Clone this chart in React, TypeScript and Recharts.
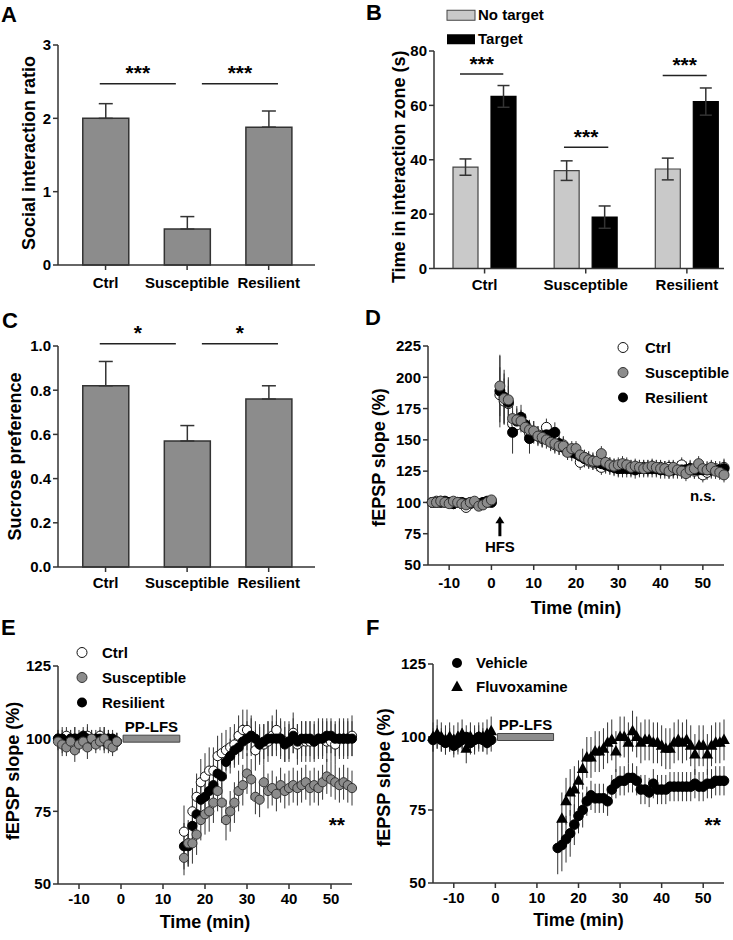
import React from 'react';
import {
  BarChart, Bar, XAxis, YAxis, ErrorBar, ReferenceLine, ReferenceDot, ReferenceArea,
  ScatterChart, Scatter, Legend,
} from 'recharts';

const FONT = '"Liberation Sans", Arial, Helvetica, sans-serif';
const AXIS = '#333333';
const GRAY = '#8c8c8c';
const LIGHT = '#c9c9c9';

// ---------------- categories & bar panels (A, B, C)
const groups = ['Ctrl', 'Susceptible', 'Resilient'];
const groupPos = [0.5, 1.5, 2.5];

// A: social interaction ratio
const socialRatio = [2.0, 0.49, 1.88];
const socialRatioSem = [0.2, 0.17, 0.22];
const ratioTicks = [0, 1, 2, 3];

// B: time in interaction zone
const timeNoTarget = [37.3, 36.0, 36.6];
const timeNoTargetSem = [3.0, 3.6, 4.0];
const timeTarget = [63.3, 18.9, 61.4];
const timeTargetSem = [4.0, 4.1, 5.0];
const timeTicks = [0, 20, 40, 60, 80];

// C: sucrose preference
const sucrosePref = [0.82, 0.57, 0.76];
const sucrosePrefSem = [0.11, 0.07, 0.06];
const sucroseTicks = [0, 0.2, 0.4, 0.6, 0.8, 1.0];

// significance annotations
const sigA = [
  { x1: 0.429, x2: 1.362, y: 2.47, text: '***' },
  { x1: 1.681, x2: 2.614, y: 2.47, text: '***' },
];
const sigB = [
  { x1: 0.257, x2: 0.685, y: 71.5, text: '***' },
  { x1: 1.285, x2: 1.723, y: 44.6, text: '***' },
  { x1: 2.261, x2: 2.696, y: 71.0, text: '***' },
];
const sigC = [
  { x1: 0.429, x2: 1.362, y: 1.01, text: '*' },
  { x1: 1.681, x2: 2.614, y: 1.01, text: '*' },
];

// ---------------- D: LTP
const minuteTicks = [-10, 0, 10, 20, 30, 40, 50];
const ltpTicks = [50, 75, 100, 125, 150, 175, 200, 225];
const dBaseTime = [-14, -13, -12, -11, -10, -9, -8, -7, -6, -5, -4, -3, -2, -1, 0];
const dPostTime = [2, 3, 4, 5, 6, 7, 8, 9, 10, 11, 12, 13, 14, 15, 16, 17, 18, 19, 20, 21, 22, 23, 24, 25, 26, 27, 28, 29, 30,
  31, 32, 33, 34, 35, 36, 37, 38, 39, 40, 41, 42, 43, 44, 45, 46, 47, 48, 49, 50, 51, 52, 53, 54, 55];
const dCtrlBase = [100, 101, 101, 100, 100, 99, 100, 99, 96, 99, 100, 98, 99, 100, 101];
const dSuscBase = [100, 100, 101, 100, 99, 101, 100, 99, 98, 100, 101, 97, 98, 100, 102];
const dResBase = [100, 100, 100, 101, 100, 99, 100, 100, 99, 100, 100, 99, 100, 101, 100];
const dBaseSem = [2, 2, 3, 2, 2, 2, 3, 2, 2, 2, 2, 3, 2, 2, 2];
const dCtrlPost = [186, 181, 179, 163, 162, 165, 160, 156, 155, 154, 151, 160, 149, 146, 145, 146, 142, 141, 140, 132, 136, 133, 132, 131,
  128, 130, 129, 128, 127, 128, 128, 127, 128, 127, 128, 127, 128, 127, 128, 127, 128, 126, 127, 130, 126, 127, 125, 126, 122, 124, 126, 127, 126, 128];
const dSuscPost = [193, 183, 182, 167, 166, 165, 160, 158, 157, 153, 152, 150, 148, 147, 145, 145, 140, 143, 143, 138, 136, 134, 133, 133,
  139, 132, 130, 129, 130, 131, 130, 128, 129, 128, 127, 128, 129, 128, 127, 127, 125, 128, 126, 125, 123, 126, 127, 131, 127, 126, 128, 125, 124, 122];
const dResPost = [189, 184, 180, 156, 165, 168, 162, 151, 156, 153, 152, 154, 154, 156, 147, 144, 141, 140, 139, 137, 135, 134, 133, 132,
  131, 130, 129, 128, 127, 127, 127, 127, 126, 127, 127, 127, 127, 127, 126, 126, 126, 126, 126, 126, 126, 127, 126, 126, 126, 126, 126, 126, 126, 127];
const dCtrlPostSem = [22, 18, 14, 9, 8, 8, 8, 7, 7, 7, 7, 7, 7, 7, 7, 7, 6, 6, 6, 6, 6, 6, 6, 6, 6, 6, 6, 6, 6, 6, 6, 6, 6, 6, 6, 6,
  6, 6, 6, 6, 6, 6, 6, 6, 6, 6, 6, 6, 6, 6, 6, 6, 6, 7];
const dSuscPostSem = [24, 20, 16, 10, 9, 9, 8, 8, 8, 7, 7, 7, 7, 7, 7, 7, 6, 6, 6, 6, 6, 6, 6, 6, 6, 6, 6, 6, 6, 6, 6, 6, 6, 6, 6, 6,
  6, 6, 6, 6, 6, 6, 6, 6, 6, 6, 6, 6, 6, 6, 6, 6, 6, 6];
const dResPostSem = [29, 22, 20, 17, 12, 10, 9, 12, 9, 8, 8, 8, 8, 8, 7, 7, 7, 7, 7, 7, 7, 7, 7, 7, 7, 7, 7, 7, 7, 7, 7, 7, 7, 7, 7, 7,
  7, 7, 7, 7, 7, 7, 7, 7, 7, 7, 7, 7, 7, 7, 7, 7, 7, 7];

// ---------------- E: LTD (stress groups)
const ltdTicks = [50, 75, 100, 125];
const eBaseTime = [-15, -14, -13, -12, -11, -10, -9, -8, -7, -6, -5, -4, -3, -2, -1];
const ePostTime = [15, 16, 17, 18, 19, 20, 21, 22, 23, 24, 25, 26, 27, 28, 29, 30, 31, 32, 33, 34, 35,
  36, 37, 38, 39, 40, 41, 42, 43, 44, 45, 46, 47, 48, 49, 50, 51, 52, 53, 54, 55];
const eCtrlBase = [100, 99, 101, 100, 100, 99, 100, 101, 100, 99, 101, 100, 100, 99, 99];
const eSuscBase = [99, 98, 97, 99, 96, 98, 99, 97, 100, 98, 99, 100, 98, 97, 99];
const eResBase = [100, 100, 99, 100, 100, 100, 101, 100, 99, 100, 100, 99, 100, 100, 99];
const eBaseSem = [3, 4, 3, 3, 4, 3, 3, 4, 3, 3, 3, 4, 3, 3, 3];
const eCtrlPost = [68, 64, 75, 80, 85, 87, 89, 89, 94, 95, 96, 97, 98, 101, 103, 103, 101, 96, 98, 98, 99,
  101, 103, 100, 99, 99, 102, 98, 99, 99, 99, 99, 100, 100, 99, 99, 98, 100, 100, 100, 101];
const eResPost = [63, 63, 70, 74, 79, 80, 82, 84, 88, 87, 92, 94, 96, 97, 99, 100, 101, 100, 98, 99, 100,
  100, 100, 100, 98, 99, 101, 99, 100, 100, 100, 99, 100, 100, 101, 101, 100, 100, 100, 100, 100];
const eSuscPost = [59, 64, 64, 67, 72, 74, 75, 78, 82, 78, 72, 75, 78, 82, 84, 88, 86, 80, 79, 85, 82,
  83, 81, 84, 82, 83, 84, 83, 84, 85, 83, 84, 83, 85, 87, 86, 85, 84, 85, 84, 83];
const eCtrlPostSem = [9, 8, 8, 8, 8, 8, 8, 8, 7, 7, 7, 7, 7, 7, 7, 7, 7, 7, 7, 7, 7, 7, 7, 7, 7, 7, 7, 7, 7, 7, 7, 7, 7, 7, 7, 7, 7, 7, 7, 7, 7];
const eResPostSem = [8, 7, 7, 7, 7, 7, 7, 7, 6, 6, 6, 6, 6, 6, 6, 6, 6, 6, 6, 6, 6, 6, 6, 6, 6, 6, 6, 6, 6, 6, 6, 6, 6, 6, 6, 6, 6, 6, 6, 6, 6];
const eSuscPostSem = [6, 7, 7, 7, 7, 7, 7, 7, 7, 7, 7, 7, 7, 7, 7, 7, 7, 6, 6, 6, 6, 6, 6, 6, 6, 6, 6, 6, 6, 6, 6, 6, 6, 6, 6, 6, 6, 6, 6, 6, 6];

// ---------------- F: LTD (drug)
const fBaseTime = [-15, -14, -13, -12, -11, -10, -9, -8, -7, -6, -5, -4, -3, -2, -1];
const fVehPostTime = [15, 16, 17, 18, 19, 20, 21, 22, 23, 24, 25, 26, 27, 28, 29, 30, 31, 32, 33, 34, 35,
  36, 37, 38, 39, 40, 41, 42, 43, 44, 45, 46, 47, 48, 49, 50, 51, 52, 53, 54, 55];
const fFluPostTime = [16, 17, 18, 19, 20, 21, 22, 23, 24, 25, 26, 27, 28, 29, 30, 31, 32, 33, 34, 35,
  36, 37, 38, 39, 40, 41, 42, 43, 44, 45, 46, 47, 48, 49, 50, 51, 52, 53, 54, 55];
const fVehBase = [99, 100, 99, 98, 99, 97, 98, 99, 100, 98, 99, 100, 99, 98, 99];
const fFluBase = [100, 101, 100, 99, 100, 99, 100, 101, 96, 100, 99, 100, 100, 101, 102];
const fVehBaseSem = [4, 4, 4, 4, 4, 4, 4, 4, 4, 4, 4, 4, 4, 4, 4];
const fFluBaseSem = [5, 5, 5, 5, 5, 5, 5, 5, 5, 5, 5, 5, 5, 5, 5];
const fVehPost = [62, 63, 65, 67, 70, 73, 75, 78, 80, 79, 79, 79, 78, 82, 84, 85, 85, 86, 86, 85, 82,
  82, 81, 84, 82, 82, 82, 83, 83, 83, 83, 83, 83, 84, 83, 83, 84, 84, 85, 85, 85];
const fFluPost = [72, 78, 81, 82, 85, 89, 93, 93, 95, 95, 96, 98, 99, 95, 100, 100, 98, 102, 100, 98,
  99, 99, 98, 98, 97, 96, 96, 98, 99, 98, 99, 97, 94, 97, 97, 94, 97, 98, 98, 99];
const fVehPostSem = [9, 9, 8, 8, 7, 6, 6, 5, 5, 5, 5, 5, 5, 5, 5, 5, 5, 5, 5, 5, 5, 5, 5, 5, 5, 5, 5, 5, 5, 5, 5, 5, 5, 5, 5, 5, 5, 5, 5, 5, 5];
const fFluPostSem = [9, 8, 8, 8, 7, 7, 7, 7, 7, 7, 7, 7, 7, 7, 7, 7, 7, 7, 7, 7, 7, 7, 7, 7, 7, 7, 7, 7, 7, 7, 7, 7, 7, 7, 7, 7, 7, 7, 7, 7];

// ---------------- helpers
const tick = { fontSize: 15, fontWeight: 700, fill: '#000' };
const title = { fontSize: 18, fontWeight: 700, fill: '#000' };
const axisLine = { stroke: AXIS, strokeWidth: 1.5 };
const catLabel = (v: number) => groups[groupPos.indexOf(v)] ?? '';

const series = (t: number[], v: number[], e: number[]) => t.map((x, i) => ({ t: x, v: v[i], e: e[i] }));

const dot = (fill: string, stroke: string, r: number) => (p: any) => (
  <circle cx={p.cx} cy={p.cy} r={r} fill={fill} stroke={stroke} strokeWidth={1} />
);
const tri = (fill: string) => (p: any) => (
  <polygon points={`${p.cx},${p.cy - 6.5} ${p.cx - 5.8},${p.cy + 4} ${p.cx + 5.8},${p.cy + 4}`} fill={fill} />
);

type Item = { label: string; icon: React.ReactNode };
const legendContent = (items: Item[], rowH: number, iconW: number, gap: number) => () => (
  <div style={{ fontFamily: FONT, fontSize: 15, fontWeight: 700, color: '#000' }}>
    {items.map((it) => (
      <div key={it.label} style={{ display: 'flex', alignItems: 'center', height: rowH }}>
        <svg width={iconW} height={rowH} viewBox={`${-iconW / 2} ${-rowH / 2} ${iconW} ${rowH}`} style={{ display: 'block', flex: 'none' }}>
          {it.icon}
        </svg>
        <span style={{ marginLeft: gap, lineHeight: `${rowH}px`, whiteSpace: 'nowrap' }}>{it.label}</span>
      </div>
    ))}
  </div>
);

const arrowShape = (p: any) => {
  const tipY = Math.min(p.y1, p.y2);
  const baseY = Math.max(p.y1, p.y2);
  const x = p.x1;
  return (
    <g>
      <line x1={x} y1={baseY} x2={x} y2={tipY + 6} stroke="#000" strokeWidth={3} />
      <polygon points={`${x - 4.5},${tipY + 7} ${x + 4.5},${tipY + 7} ${x},${tipY}`} fill="#000" />
    </g>
  );
};

const sigLines = (list: { x1: number; x2: number; y: number; text: string }[], offset: number) =>
  list.map((s, i) => (
    <ReferenceLine
      key={`sig${i}`}
      segment={[{ x: s.x1, y: s.y }, { x: s.x2, y: s.y }]}
      stroke="#222"
      strokeWidth={1.5}
      ifOverflow="visible"
      label={{ value: s.text, position: 'top', offset, fontSize: 21, fontWeight: 700, fill: '#000' }}
    />
  ));

const Letter = ({ ch, left, top }: { ch: string; left: number; top: number }) => (
  <div style={{ position: 'absolute', left, top, fontSize: 22, fontWeight: 700, lineHeight: '26px', color: '#000' }}>{ch}</div>
);

const Box = ({ left, top, children }: { left: number; top: number; children: React.ReactNode }) => (
  <div style={{ position: 'absolute', left, top }}>{children}</div>
);

// ---------------- data tables for the library
const dataA = groups.map((g, i) => ({ pos: groupPos[i], name: g, value: socialRatio[i], err: [0, socialRatioSem[i]] }));
const dataC = groups.map((g, i) => ({ pos: groupPos[i], name: g, value: sucrosePref[i], err: [0, sucrosePrefSem[i]] }));
const dataB = groups.map((g, i) => ({
  pos: groupPos[i], name: g,
  noTarget: timeNoTarget[i], noTargetErr: timeNoTargetSem[i],
  target: timeTarget[i], targetErr: timeTargetSem[i],
}));

const dCtrl = [...series(dBaseTime, dCtrlBase, dBaseSem), ...series(dPostTime, dCtrlPost, dCtrlPostSem)];
const dSusc = [...series(dBaseTime, dSuscBase, dBaseSem), ...series(dPostTime, dSuscPost, dSuscPostSem)];
const dRes = [...series(dBaseTime, dResBase, dBaseSem), ...series(dPostTime, dResPost, dResPostSem)];

const eCtrl = [...series(eBaseTime, eCtrlBase, eBaseSem), ...series(ePostTime, eCtrlPost, eCtrlPostSem)];
const eSusc = [...series(eBaseTime, eSuscBase, eBaseSem), ...series(ePostTime, eSuscPost, eSuscPostSem)];
const eRes = [...series(eBaseTime, eResBase, eBaseSem), ...series(ePostTime, eResPost, eResPostSem)];

const fVeh = [...series(fBaseTime, fVehBase, fVehBaseSem), ...series(fVehPostTime, fVehPost, fVehPostSem)];
const fFlu = [...series(fBaseTime, fFluBase, fFluBaseSem), ...series(fFluPostTime, fFluPost, fFluPostSem)];

const stressLegend: Item[] = [
  { label: groups[0], icon: <circle r={5} fill="#fff" stroke="#111" strokeWidth={1} /> },
  { label: groups[1], icon: <circle r={5} fill={GRAY} stroke="#333" strokeWidth={1} /> },
  { label: groups[2], icon: <circle r={5} fill="#000" /> },
];
const drugLegend: Item[] = [
  { label: 'Vehicle', icon: <circle r={5} fill="#000" /> },
  { label: 'Fluvoxamine', icon: <polygon points="0,-6.5 -5.8,4 5.8,4" fill="#000" /> },
];
const targetLegend: Item[] = [
  { label: 'No target', icon: <rect x={-14} y={-5} width={28} height={10} fill={LIGHT} stroke="#444" strokeWidth={1} /> },
  { label: 'Target', icon: <rect x={-14} y={-5} width={28} height={10} fill="#000" /> },
];

export default function App() {
  return (
    <div style={{ position: 'absolute', left: 0, top: 0, width: 733, height: 940, background: '#fff', fontFamily: FONT, overflow: 'hidden' }}>
      {/* A */}
      <Box left={0} top={0}>
        <BarChart width={366} height={310} data={dataA} margin={{ top: 45, right: 51, bottom: 5, left: 0 }}>
          <XAxis dataKey="pos" type="number" domain={[-0.083, 3.068]} ticks={groupPos} interval={0} tickFormatter={catLabel}
            tick={tick} tickSize={5} tickMargin={7} axisLine={axisLine} tickLine={axisLine} height={40} />
          <YAxis type="number" domain={[0, 3]} ticks={ratioTicks} interval={0} width={58} tick={tick} tickSize={5} tickMargin={2}
            axisLine={axisLine} tickLine={axisLine}
            label={{ value: 'Social interaction ratio', angle: -90, position: 'center', dy: -2, ...title }} />
          <Bar dataKey="value" barSize={46} fill={GRAY} stroke="#333" strokeWidth={1.5} isAnimationActive={false}>
            <ErrorBar dataKey="err" width={7} stroke="#333" strokeWidth={1.5} direction="y" isAnimationActive={false} />
          </Bar>
          {sigLines(sigA, 4)}
        </BarChart>
      </Box>

      {/* B */}
      <Box left={364} top={0}>
        <BarChart width={369} height={310} data={dataB} barGap={13} margin={{ top: 51, right: 9, bottom: 1.5, left: 0 }}>
          <XAxis dataKey="pos" type="number" domain={[0, 2.867]} ticks={groupPos} interval={0} tickFormatter={catLabel}
            tick={tick} tickSize={5} tickMargin={6} axisLine={axisLine} tickLine={axisLine} height={40} />
          <YAxis type="number" domain={[0, 80]} ticks={timeTicks} interval={0} width={70} tick={tick} tickSize={5} tickMargin={2}
            axisLine={axisLine} tickLine={axisLine}
            label={{ value: 'Time in interaction zone (s)', angle: -90, position: 'center', dy: 7, ...title }} />
          <Bar dataKey="noTarget" barSize={25} fill={LIGHT} stroke="#444" strokeWidth={1.2} isAnimationActive={false}>
            <ErrorBar dataKey="noTargetErr" width={6} stroke="#333" strokeWidth={1.5} direction="y" isAnimationActive={false} />
          </Bar>
          <Bar dataKey="target" barSize={25} fill="#000" stroke="#000" strokeWidth={1.2} isAnimationActive={false}>
            <ErrorBar dataKey="targetErr" width={6} stroke="#333" strokeWidth={1.5} direction="y" isAnimationActive={false} />
          </Bar>
          {sigLines(sigB, 3)}
          <Legend layout="vertical" align="center" verticalAlign="middle" content={legendContent(targetLegend, 24.5, 30, 2)}
            wrapperStyle={{ left: 82, top: 2.75, width: 'auto', height: 'auto' }} />
        </BarChart>
      </Box>

      {/* C */}
      <Box left={-28} top={310}>
        <BarChart width={394} height={310} data={dataC} margin={{ top: 36, right: 51, bottom: 13, left: 0 }}>
          <XAxis dataKey="pos" type="number" domain={[-0.083, 3.068]} ticks={groupPos} interval={0} tickFormatter={catLabel}
            tick={tick} tickSize={5} tickMargin={5} axisLine={axisLine} tickLine={axisLine} height={40} />
          <YAxis type="number" domain={[0, 1]} ticks={sucroseTicks} interval={0} width={86} tick={tick} tickSize={5} tickMargin={2}
            tickFormatter={(v: number) => v.toFixed(1)} axisLine={axisLine} tickLine={axisLine}
            label={{ value: 'Sucrose preference', angle: -90, position: 'center', dy: 0, ...title }} />
          <Bar dataKey="value" barSize={46} fill={GRAY} stroke="#333" strokeWidth={1.5} isAnimationActive={false}>
            <ErrorBar dataKey="err" width={7} stroke="#333" strokeWidth={1.5} direction="y" isAnimationActive={false} />
          </Bar>
          {sigLines(sigC, 4)}
        </BarChart>
      </Box>

      {/* D */}
      <Box left={330} top={310}>
        <ScatterChart width={403} height={341} margin={{ top: 36, right: 9, bottom: 0, left: 0 }}>
          <XAxis dataKey="t" type="number" domain={[-15, 55]} ticks={minuteTicks} interval={0} tick={tick} tickSize={5} tickMargin={7}
            axisLine={axisLine} tickLine={axisLine} height={86}
            label={{ value: 'Time (min)', position: 'center', ...title }} />
          <YAxis dataKey="v" type="number" domain={[50, 225]} ticks={ltpTicks} interval={0} width={98} tick={tick} tickSize={5} tickMargin={2}
            axisLine={axisLine} tickLine={axisLine}
            label={{ value: 'fEPSP slope (%)', angle: -90, position: 'center', dy: 2, ...title }} />
          <Scatter data={dCtrl} shape={dot('#fff', '#111', 5)} isAnimationActive={false}>
            <ErrorBar dataKey="e" direction="y" width={0} stroke="#333" strokeWidth={1} isAnimationActive={false} />
          </Scatter>
          <Scatter data={dRes} shape={dot('#000', '#000', 5)} isAnimationActive={false}>
            <ErrorBar dataKey="e" direction="y" width={0} stroke="#333" strokeWidth={1} isAnimationActive={false} />
          </Scatter>
          <Scatter data={dSusc} shape={dot(GRAY, '#333', 5)} isAnimationActive={false}>
            <ErrorBar dataKey="e" direction="y" width={0} stroke="#333" strokeWidth={1} isAnimationActive={false} />
          </Scatter>
          <ReferenceLine segment={[{ x: 2, y: 73 }, { x: 2, y: 89 }]} shape={arrowShape} ifOverflow="visible" />
          <ReferenceDot x={2} y={64.3} r={0} fill="none" stroke="none"
            label={{ value: 'HFS', position: 'center', fontSize: 15, fontWeight: 700, fill: '#000' }} />
          <ReferenceDot x={50} y={105.4} r={0} fill="none" stroke="none"
            label={{ value: 'n.s.', position: 'center', fontSize: 15, fontWeight: 700, fill: '#000' }} />
          <Legend layout="vertical" align="center" verticalAlign="middle" content={legendContent(stressLegend, 25, 20, 12)}
            wrapperStyle={{ left: 283, top: 24.5, width: 'auto', height: 'auto' }} />
        </ScatterChart>
      </Box>

      {/* E */}
      <Box left={-32} top={620}>
        <ScatterChart width={393} height={340} margin={{ top: 46, right: 9, bottom: 0, left: 0 }}>
          <XAxis dataKey="t" type="number" domain={[-15, 55]} ticks={minuteTicks} interval={0} tick={tick} tickSize={5} tickMargin={4}
            axisLine={axisLine} tickLine={axisLine} height={76}
            label={{ value: 'Time (min)', position: 'center', ...title }} />
          <YAxis dataKey="v" type="number" domain={[50, 125]} ticks={ltdTicks} interval={0} width={90} tick={tick} tickSize={5} tickMargin={2}
            axisLine={axisLine} tickLine={axisLine}
            label={{ value: 'fEPSP slope (%)', angle: -90, position: 'center', dy: -4, ...title }} />
          <ReferenceArea x1={0.5} x2={14} y1={98.8} y2={101.2} fill={GRAY} fillOpacity={1} stroke="#444" strokeWidth={1}
            label={{ value: 'PP-LFS', position: 'top', offset: 3, fontSize: 15, fontWeight: 700, fill: '#000' }} />
          <Scatter data={eCtrl} shape={dot('#fff', '#111', 4.6)} isAnimationActive={false}>
            <ErrorBar dataKey="e" direction="y" width={0} stroke="#333" strokeWidth={1} isAnimationActive={false} />
          </Scatter>
          <Scatter data={eRes} shape={dot('#000', '#000', 4.6)} isAnimationActive={false}>
            <ErrorBar dataKey="e" direction="y" width={0} stroke="#333" strokeWidth={1} isAnimationActive={false} />
          </Scatter>
          <Scatter data={eSusc} shape={dot(GRAY, '#333', 4.6)} isAnimationActive={false}>
            <ErrorBar dataKey="e" direction="y" width={0} stroke="#333" strokeWidth={1} isAnimationActive={false} />
          </Scatter>
          <ReferenceDot x={51.4} y={70.5} r={0} fill="none" stroke="none"
            label={{ value: '**', position: 'center', fontSize: 21, fontWeight: 700, fill: '#000' }} />
          <Legend layout="vertical" align="center" verticalAlign="middle" content={legendContent(stressLegend, 25, 20, 10)}
            wrapperStyle={{ left: 104, top: 19.5, width: 'auto', height: 'auto' }} />
        </ScatterChart>
      </Box>

      {/* F */}
      <Box left={335} top={620}>
        <ScatterChart width={398} height={337} margin={{ top: 44, right: 9, bottom: 0, left: 0 }}>
          <XAxis dataKey="t" type="number" domain={[-15, 55]} ticks={minuteTicks} interval={0} tick={tick} tickSize={5} tickMargin={4}
            axisLine={axisLine} tickLine={axisLine} height={74}
            label={{ value: 'Time (min)', position: 'center', ...title }} />
          <YAxis dataKey="v" type="number" domain={[50, 125]} ticks={ltdTicks} interval={0} width={98} tick={tick} tickSize={5} tickMargin={2}
            axisLine={axisLine} tickLine={axisLine}
            label={{ value: 'fEPSP slope (%)', angle: -90, position: 'center', dy: 4, ...title }} />
          <ReferenceArea x1={0.5} x2={14} y1={98.8} y2={101.2} fill={GRAY} fillOpacity={1} stroke="#444" strokeWidth={1}
            label={{ value: 'PP-LFS', position: 'top', offset: 3, fontSize: 15, fontWeight: 700, fill: '#000' }} />
          <Scatter data={fFlu} shape={tri('#000')} isAnimationActive={false}>
            <ErrorBar dataKey="e" direction="y" width={0} stroke="#333" strokeWidth={1} isAnimationActive={false} />
          </Scatter>
          <Scatter data={fVeh} shape={dot('#000', '#000', 4.8)} isAnimationActive={false}>
            <ErrorBar dataKey="e" direction="y" width={0} stroke="#333" strokeWidth={1} isAnimationActive={false} />
          </Scatter>
          <ReferenceDot x={52.3} y={70} r={0} fill="none" stroke="none"
            label={{ value: '**', position: 'center', fontSize: 21, fontWeight: 700, fill: '#000' }} />
          <Legend layout="vertical" align="center" verticalAlign="middle" content={legendContent(drugLegend, 24, 20, 9.5)}
            wrapperStyle={{ left: 111.5, top: 30.7, width: 'auto', height: 'auto' }} />
        </ScatterChart>
      </Box>

      <Letter ch="A" left={1} top={2} />
      <Letter ch="B" left={366} top={0} />
      <Letter ch="C" left={2} top={308} />
      <Letter ch="D" left={365} top={305} />
      <Letter ch="E" left={1} top={615} />
      <Letter ch="F" left={366} top={615} />
    </div>
  );
}
